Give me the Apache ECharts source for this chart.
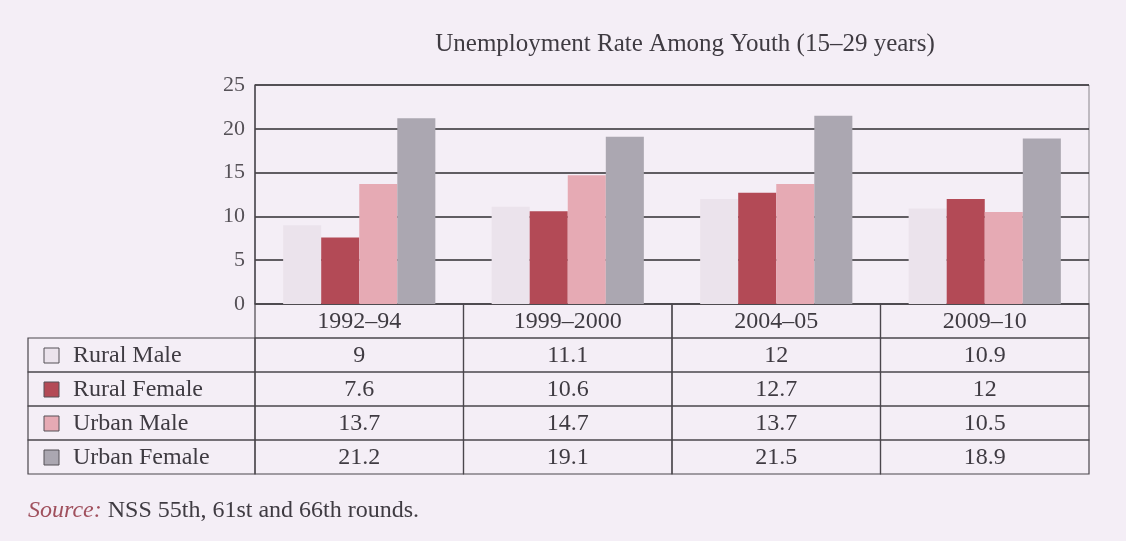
<!DOCTYPE html>
<html>
<head>
<meta charset="utf-8">
<script src="https://cdn.jsdelivr.net/npm/echarts@6/dist/echarts.min.js"></script>
<style>
html,body{margin:0;padding:0;background:#f4eef6;}
#chart{width:1126px;height:541px;}
</style>
</head>
<body>
<div id="chart"></div>
<script>
const categories = ['1992–94', '1999–2000', '2004–05', '2009–10'];
const seriesNames = ['Rural Male', 'Rural Female', 'Urban Male', 'Urban Female'];
const ruralMale = [9, 11.1, 12, 10.9];
const ruralFemale = [7.6, 10.6, 12.7, 12];
const urbanMale = [13.7, 14.7, 13.7, 10.5];
const urbanFemale = [21.2, 19.1, 21.5, 18.9];
const colors = ['#ebe3ec', '#b34a56', '#e6aab4', '#aba7b1'];
const titleText = 'Unemployment Rate Among Youth (15–29 years)';
const sourceLabel = 'Source:';
const sourceText = ' NSS 55th, 61st and 66th rounds.';

const seriesValues = [ruralMale, ruralFemale, urbanMale, urbanFemale];
const FONT = '"Liberation Serif", "Times New Roman", serif';
const TEXT = '#3f3b42';
const LINE = '#4a464c';
const TABLE_LEFT = 28;

const chart = echarts.init(document.getElementById('chart'), null, {renderer: 'canvas'});

const rowAxis = ['header'].concat(seriesNames);

// table cells: [col, row]
const cellData = [];
for (let r = 0; r < rowAxis.length; r++) {
  for (let c = 0; c < categories.length; c++) cellData.push([c, r]);
}
const labelData = [];
for (let r = 1; r < rowAxis.length; r++) labelData.push([0, r]);

function cellText(c, r) {
  if (r === 0) return categories[c];
  return String(seriesValues[r - 1][c]);
}

const barSeries = seriesNames.map((name, i) => ({
  name: name,
  type: 'bar',
  xAxisIndex: 0,
  yAxisIndex: 0,
  data: seriesValues[i],
  barGap: '0%',
  barCategoryGap: '27%',
  itemStyle: {color: colors[i]},
  silent: true
}));

const option = {
  backgroundColor: '#f4eef6',
  animation: false,
  title: [
    {
      text: titleText,
      left: 680,
      top: 27,
      textAlign: 'center',
      textStyle: {fontFamily: FONT, fontSize: 25, fontWeight: 'normal', color: TEXT}
    },
    {
      text: '{i|' + sourceLabel + '}{n|' + sourceText + '}',
      left: 23,
      top: 494,
      textStyle: {
        fontWeight: 'normal',
        rich: {
          i: {fontFamily: FONT, fontSize: 24, fontStyle: 'italic', fontWeight: 'normal', color: '#a0505d'},
          n: {fontFamily: FONT, fontSize: 24, fontWeight: 'normal', color: TEXT}
        }
      }
    }
  ],
  grid: [
    {left: 255, right: 37, top: 85, height: 219, show: true, borderColor: '#8a868c', borderWidth: 1, backgroundColor: 'transparent'},
    {left: 255, right: 37, top: 304, height: 170}
  ],
  xAxis: [
    {type: 'category', gridIndex: 0, data: categories, axisLine: {show: false}, axisTick: {show: false}, axisLabel: {show: false}},
    {type: 'category', gridIndex: 1, data: categories, show: false}
  ],
  yAxis: [
    {
      type: 'value', gridIndex: 0, min: 0, max: 25, interval: 5,
      axisLine: {show: true, lineStyle: {color: LINE, width: 1.5}},
      axisTick: {show: false},
      axisLabel: {fontFamily: FONT, fontSize: 22, color: '#555157', margin: 10},
      splitLine: {show: true, lineStyle: {color: '#2f2c31', width: 1.6}}
    },
    {type: 'category', gridIndex: 1, data: rowAxis, inverse: true, show: false}
  ],
  series: barSeries.concat([
    {
      type: 'custom',
      xAxisIndex: 1,
      yAxisIndex: 1,
      silent: true,
      data: cellData,
      renderItem: function (params, api) {
        const c = api.value(0), r = api.value(1);
        const p = api.coord([c, r]);
        const s = api.size([1, 1]);
        return {
          type: 'group',
          children: [
            {type: 'rect', shape: {x: p[0] - s[0] / 2, y: p[1] - s[1] / 2, width: s[0], height: s[1]},
              style: {fill: 'none', stroke: LINE, lineWidth: 1.2}},
            {type: 'text', style: {text: cellText(c, r), x: p[0], y: p[1] + 1, align: 'center', verticalAlign: 'middle',
              fontFamily: FONT, fontSize: 24, fill: TEXT}}
          ]
        };
      }
    },
    {
      type: 'custom',
      xAxisIndex: 1,
      yAxisIndex: 1,
      silent: true,
      data: labelData,
      renderItem: function (params, api) {
        const r = api.value(1);
        const p = api.coord([0, r]);
        const s = api.size([1, 1]);
        const x0 = TABLE_LEFT;
        const x1 = params.coordSys.x;
        const y0 = p[1] - s[1] / 2;
        return {
          type: 'group',
          children: [
            {type: 'rect', shape: {x: x0, y: y0, width: x1 - x0, height: s[1]},
              style: {fill: 'none', stroke: LINE, lineWidth: 1.2}},
            {type: 'rect', shape: {x: x0 + 16, y: p[1] - 7, width: 15, height: 15},
              style: {fill: colors[r - 1], stroke: '#555157', lineWidth: 1}},
            {type: 'text', style: {text: seriesNames[r - 1], x: x0 + 45, y: p[1] + 1, align: 'left', verticalAlign: 'middle',
              fontFamily: FONT, fontSize: 24, fill: TEXT}}
          ]
        };
      }
    }
  ])
};

chart.setOption(option);
</script>
</body>
</html>
